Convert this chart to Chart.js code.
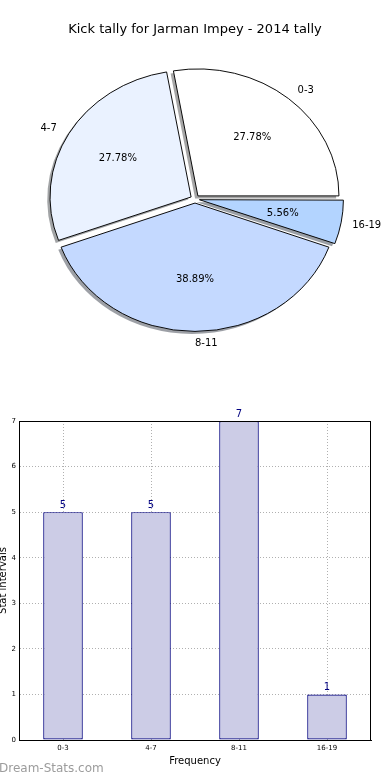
<!DOCTYPE html>
<html><head><meta charset="utf-8">
<script src="https://cdn.jsdelivr.net/npm/chart.js@4.4.0/dist/chart.umd.min.js"></script>
<style>
html,body{margin:0;padding:0;background:#fff;width:390px;height:780px;overflow:hidden;}
#pie{position:absolute;left:0;top:0;}
#bar{position:absolute;left:0;top:380px;}
#wm{position:absolute;left:-1px;top:761px;font:12px 'DejaVu Sans',sans-serif;color:#9c9c9c;white-space:nowrap;}
</style></head><body>
<canvas id="pie" width="390" height="380"></canvas>
<canvas id="bar" width="390" height="400"></canvas>
<div id="wm">Dream-Stats.com</div>
<script>
// ---- data ----
const titleText = 'Kick tally for Jarman Impey - 2014 tally';
const categories = ['0-3', '4-7', '8-11', '16-19'];
const tally = [5, 5, 7, 1];
const sliceColors = ['#ffffff', '#eaf2ff', '#c4d9ff', '#b3d4ff'];
const yTickMax = 7;
const xTitle = 'Frequency';
const yTitle = 'Stat intervals';

// ---- pie ----
const FONT = 'DejaVu Sans';
const pieOrder = [3, 2, 1, 0];          // clockwise from 3 o'clock = matplotlib CCW order
const total = tally.reduce((a, b) => a + b, 0);
const Y_SQUASH = 0.9;
const PIE_R = 141;
const EXPLODE = 18;                     // arc offset option (drawn as offset/4)

function shadowOf(hex) {
  const n = parseInt(hex.slice(1), 16);
  const r = (n >> 16) & 255, g = (n >> 8) & 255, b = n & 255;
  return `rgba(${Math.round(r * 0.3)},${Math.round(g * 0.3)},${Math.round(b * 0.3)},0.5)`;
}

const pieFx = {
  id: 'pieFx',
  beforeDatasetsDraw(chart) {
    const meta = chart.getDatasetMeta(0);
    const ctx = chart.ctx;
    const cx = meta.data[0].x, cy = meta.data[0].y;
    ctx.save();
    ctx.translate(cx, cy); ctx.scale(1, Y_SQUASH); ctx.translate(-cx, -cy);
    meta.data.forEach((arc, j) => {
      const fake = Object.create(arc);
      fake.options = Object.assign({}, arc.options, {
        backgroundColor: shadowOf(sliceColors[pieOrder[j]]),
        borderColor: 'rgba(0,0,0,0)', borderWidth: 0
      });
      ctx.save(); ctx.translate(-2.8, 2.8); fake.draw(ctx); ctx.restore();
    });
  },
  afterDatasetsDraw(chart) {
    const ctx = chart.ctx;
    ctx.restore();
    const meta = chart.getDatasetMeta(0);
    const cx = meta.data[0].x, cy = meta.data[0].y;
    const s = EXPLODE / 4;
    ctx.save();
    ctx.fillStyle = '#000';
    ctx.font = `10px '${FONT}'`;
    ctx.textBaseline = 'middle';
    meta.data.forEach((arc, j) => {
      const k = pieOrder[j];
      const th = (arc.startAngle + arc.endAngle) / 2;
      const c = Math.cos(th), sn = Math.sin(th);
      let rr = 0.6 * PIE_R + s;
      ctx.textAlign = 'center';
      ctx.fillText((tally[k] / total * 100).toFixed(2) + '%', cx + rr * c, cy + rr * sn * Y_SQUASH);
      rr = 1.1 * PIE_R + s;
      ctx.textAlign = c >= 0 ? 'left' : 'right';
      ctx.fillText(categories[k], cx + rr * c, cy + rr * sn * Y_SQUASH + 1);
    });
    ctx.restore();
  }
};

new Chart(document.getElementById('pie'), {
  type: 'pie',
  data: {
    labels: pieOrder.map(k => categories[k]),
    datasets: [{
      data: pieOrder.map(k => tally[k]),
      backgroundColor: pieOrder.map(k => sliceColors[k]),
      borderColor: '#000',
      borderWidth: 1,
      offset: EXPLODE,
      clip: false
    }]
  },
  options: {
    responsive: false, animation: false, events: [],
    rotation: 90,
    radius: PIE_R,
    layout: { padding: { top: 0, bottom: 29.8, left: 0, right: 0 } },
    plugins: {
      legend: { display: false }, tooltip: { enabled: false },
      title: { display: true, text: titleText, color: '#000',
        font: { family: FONT, size: 13, weight: 'normal', lineHeight: 1.2 },
        padding: { top: 22.2, bottom: 10 } }
    }
  },
  plugins: [pieFx]
});

// ---- bar ----
const boxPlugin = {
  id: 'box',
  afterDraw(chart) {
    const a = chart.chartArea, ctx = chart.ctx;
    ctx.save();
    ctx.strokeStyle = '#000'; ctx.lineWidth = 1;
    ctx.strokeRect(Math.round(a.left) + 0.5, Math.round(a.top) + 0.5,
                   Math.round(a.right - a.left) - 1, Math.round(a.bottom - a.top));
    ctx.restore();
  }
};
const valuePlugin = {
  id: 'values',
  afterDatasetsDraw(chart) {
    const ctx = chart.ctx;
    ctx.save();
    ctx.fillStyle = '#000080';
    ctx.font = `10px '${FONT}'`;
    ctx.textAlign = 'center';
    ctx.textBaseline = 'alphabetic';
    chart.getDatasetMeta(0).data.forEach((el, i) => {
      ctx.fillText(String(tally[i]), el.x, el.y - 4.5);
    });
    ctx.restore();
  }
};

const gridStyle = { color: '#b0b0b0', lineWidth: 1, drawTicks: false, offset: false };
new Chart(document.getElementById('bar'), {
  type: 'bar',
  data: {
    labels: categories,
    datasets: [{
      data: tally,
      backgroundColor: '#ccccE6',
      borderColor: '#00007f',
      borderWidth: 1.2,
      borderSkipped: false,
      barPercentage: 0.45,
      categoryPercentage: 1
    }]
  },
  options: {
    responsive: false, animation: false, events: [],
    layout: { padding: { left: 0, right: 19, top: 41, bottom: 10 } },
    plugins: { legend: { display: false }, tooltip: { enabled: false } },
    scales: {
      x: {
        type: 'category', offset: true,
        grid: gridStyle,
        border: { display: true, color: '#000', dash: [1, 2] },
        ticks: { font: { family: FONT, size: 7 }, color: '#000', padding: 4, maxRotation: 0, autoSkip: false },
        title: { display: true, text: xTitle, color: '#000', font: { family: FONT, size: 10 }, padding: { top: 0, bottom: 3 } },
        afterFit(s) { s.height = 30; }
      },
      y: {
        min: 0, max: yTickMax,
        grid: gridStyle,
        border: { display: true, color: '#000', dash: [1, 2] },
        ticks: { stepSize: 1, font: { family: FONT, size: 7 }, color: '#000', padding: 3 },
        title: { display: true, text: yTitle, color: '#000', font: { family: FONT, size: 10 }, padding: { top: -2.5, bottom: 0 } },
        afterFit(s) { s.width = 19; }
      }
    }
  },
  plugins: [boxPlugin, valuePlugin]
});
</script>
</body></html>
